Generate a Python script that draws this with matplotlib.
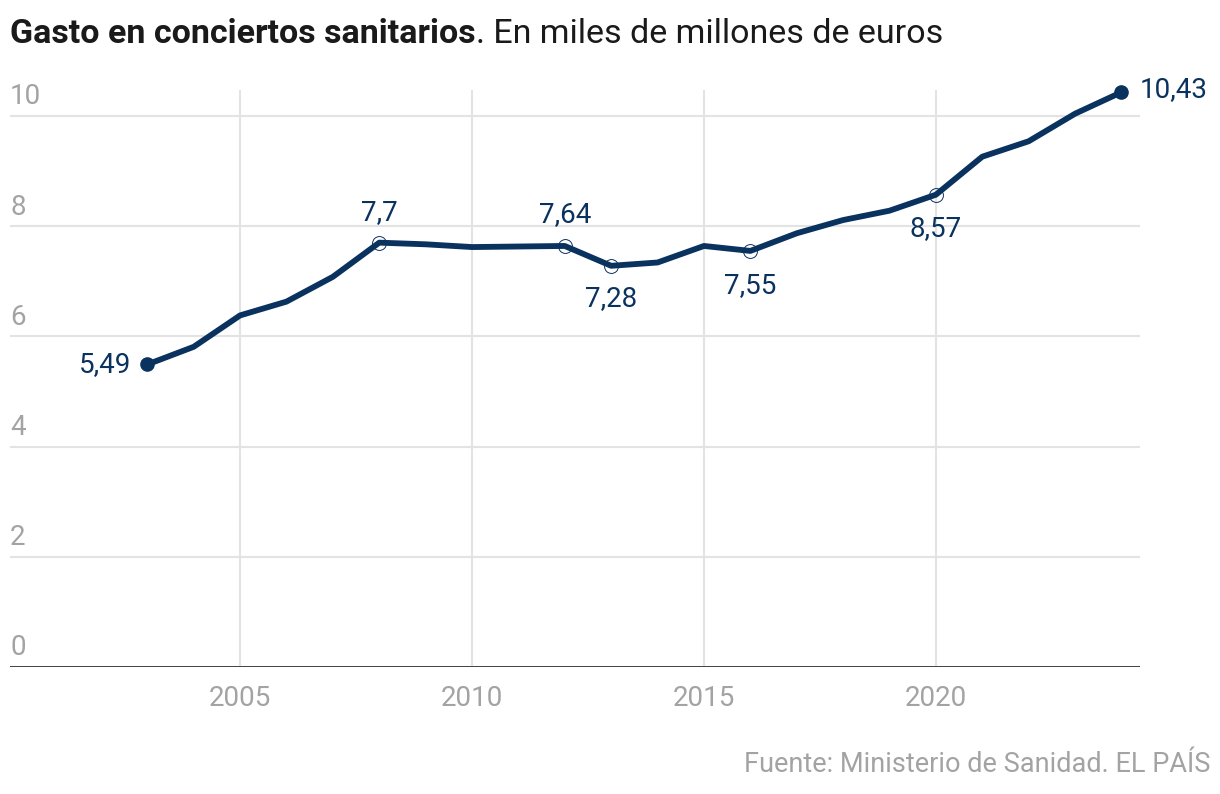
import matplotlib
matplotlib.use("Agg")
import matplotlib.pyplot as plt
import matplotlib.transforms as mtransforms
from matplotlib import font_manager

# data
years = list(range(2003, 2025))
gasto = [5.49, 5.81, 6.38, 6.63, 7.08, 7.70, 7.67, 7.62, 7.63, 7.64, 7.28,
         7.34, 7.64, 7.55, 7.87, 8.11, 8.28, 8.57, 9.26, 9.54, 10.04, 10.43]
y_ticks = [0, 2, 4, 6, 8, 10]
x_ticks = [2005, 2010, 2015, 2020]

# labelled points: year -> (text, dx px, dy px, ha)
etiquetas = {
    2003: ("5,49", -16, 0, "right"),
    2008: ("7,7", 0, 30, "center"),
    2012: ("7,64", 0, 31, "center"),
    2013: ("7,28", 0, -33, "center"),
    2016: ("7,55", 0, -35, "center"),
    2020: ("8,57", 0, -34, "center"),
    2024: ("10,43", 18, 3, "left"),
}

nombres = {f.name for f in font_manager.fontManager.ttflist}
fuente = "Liberation Sans Narrow" if "Liberation Sans Narrow" in nombres else "Roboto"
plt.rcParams["font.family"] = [fuente, "DejaVu Sans"]

azul = "#0a325f"
gris = "#a3a3a3"
rejilla = "#e3e3e3"

fig = plt.figure(figsize=(12.2, 7.94), dpi=100)
ax = fig.add_axes([10 / 1220, 1 - 667 / 794, 1130 / 1220, 577 / 794])
ax.set_xlim(2000.04, 2024.4)
ax.set_ylim(0, 10.47)

for v in y_ticks:
    ax.axhline(v, color=rejilla, lw=1.5, zorder=0)
for x in x_ticks:
    ax.axvline(x, color=rejilla, lw=1.5, zorder=0)
ax.axhline(0, color="#333333", lw=2, zorder=1)

for s in ax.spines.values():
    s.set_visible(False)
ax.set_xticks([])
ax.set_yticks([])

trans_y = mtransforms.blended_transform_factory(ax.transAxes, ax.transData)
for v in y_ticks:
    ax.text(0, v + 0.1, str(v), transform=trans_y, ha="left", va="bottom",
            fontsize=20, color=gris)
trans_x = mtransforms.blended_transform_factory(ax.transData, ax.transAxes)
for x in x_ticks:
    ax.text(x, -0.055, str(x), transform=trans_x, ha="center", va="center",
            fontsize=20, color=gris, clip_on=False)

ax.plot(years, gasto, color=azul, lw=4.2, solid_joinstyle="round",
        solid_capstyle="round", zorder=3)

for anio, (txt, dx, dy, ha) in etiquetas.items():
    val = gasto[years.index(anio)]
    if anio in (years[0], years[-1]):
        ax.plot(anio, val, "o", ms=9.5, color=azul, zorder=4, clip_on=False)
    else:
        ax.plot(anio, val, "o", ms=10, mfc="none", mec=azul, mew=0.7, zorder=4)
    ax.annotate(txt, (anio, val), xytext=(dx * 0.72, dy * 0.72),
                textcoords="offset points", ha=ha, va="center",
                fontsize=20, color=azul, annotation_clip=False)

# title: bold part + regular part
t1 = fig.text(10 / 1220, 1 - 34 / 794, "Gasto en conciertos sanitarios",
              fontsize=24.5, fontweight="bold", color="#1a1a1a", va="center")
fig.canvas.draw()
bb = t1.get_window_extent()
fig.text(bb.x1 / 1220, 1 - 34 / 794, ". En miles de millones de euros",
         fontsize=24.5, color="#1a1a1a", va="center")

fig.text(1210 / 1220, 1 - 765 / 794, "Fuente: Ministerio de Sanidad. EL PAÍS",
         fontsize=19.5, color=gris, ha="right", va="center")

fig.savefig("out.png", dpi=100)
